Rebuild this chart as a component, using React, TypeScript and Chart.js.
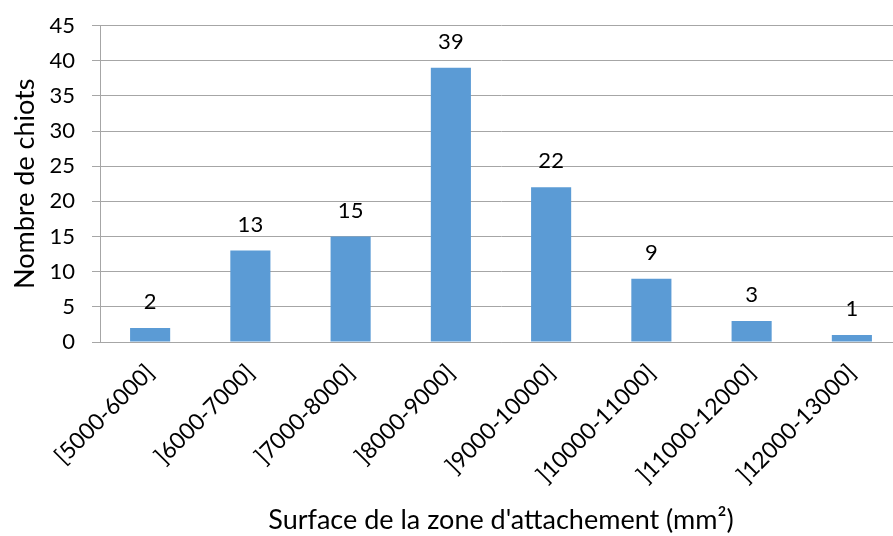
import React, { useEffect, useRef } from "react";
import { Chart, registerables } from "chart.js";

Chart.register(...registerables);

const categories = [
  "[5000-6000]",
  "]6000-7000]",
  "]7000-8000]",
  "]8000-9000]",
  "]9000-10000]",
  "]10000-11000]",
  "]11000-12000]",
  "]12000-13000]",
];
const counts = [2, 13, 15, 39, 22, 9, 3, 1];
const yMin = 0;
const yMax = 45;
const yStep = 5;
const yTitle = "Nombre de chiots";
const xTitle = "Surface de la zone d'attachement (mm²)";

const FONT = "Lato, 'Open Sans', sans-serif";

const valueLabels = {
  id: "valueLabels",
  afterDatasetsDraw(chart: any) {
    const ctx = chart.ctx;
    const meta = chart.getDatasetMeta(0);
    ctx.save();
    ctx.font = `22px ${FONT}`;
    ctx.fillStyle = "#000";
    ctx.textAlign = "center";
    ctx.textBaseline = "alphabetic";
    meta.data.forEach((bar: any, i: number) => {
      ctx.fillText(String(chart.data.datasets[0].data[i]), bar.x, bar.y - 19);
    });
    ctx.restore();
  },
};

export default function App() {
  const ref = useRef<HTMLCanvasElement>(null);
  useEffect(() => {
    if (!ref.current) return;
    const chart = new Chart(ref.current, {
      type: "bar",
      data: {
        labels: categories,
        datasets: [
          {
            data: counts,
            backgroundColor: "#5B9BD5",
            borderWidth: 0,
            barPercentage: 0.4,
            categoryPercentage: 1,
          },
        ],
      },
      plugins: [valueLabels],
      options: {
        responsive: false,
        animation: false,
        layout: { padding: { top: 25.5, right: 1, left: 0, bottom: 0 } },
        plugins: { legend: { display: false }, tooltip: { enabled: false } },
        scales: {
          x: {
            grid: { display: false },
            border: { display: true, color: "#a6a6a6", width: 1 },
            ticks: {
              color: "#000",
              font: { family: FONT, size: 23 },
              minRotation: 45,
              maxRotation: 45,
              padding: 9,
              autoSkip: false,
            },
            title: {
              display: true,
              text: xTitle,
              color: "#000",
              font: { family: FONT, size: 27 },
              padding: { top: 0, bottom: 0 },
            },
            afterFit(scale: any) {
              scale.height = 194;
            },
          },
          y: {
            min: yMin,
            max: yMax,
            ticks: {
              stepSize: yStep,
              color: "#000",
              font: { family: FONT, size: 22 },
              padding: 17,
            },
            grid: { color: "#a6a6a6", tickLength: 8, lineWidth: 1 },
            border: { display: true, color: "#a6a6a6", width: 1 },
            title: {
              display: true,
              text: yTitle,
              color: "#000",
              font: { family: FONT, size: 27 },
              padding: { top: 9, bottom: 0 },
            },
            afterFit(scale: any) {
              scale.width = 100;
              scale.paddingTop = 0;
              scale.paddingBottom = 0;
            },
          },
        },
      },
    });
    return () => chart.destroy();
  }, []);
  return (
    <div
      style={{
        position: "fixed",
        left: 0,
        top: 0,
        width: 893,
        height: 536,
        overflow: "hidden",
        background: "#fff",
      }}
    >
      <canvas ref={ref} width={903} height={536} style={{ display: "block" }} />
    </div>
  );
}
